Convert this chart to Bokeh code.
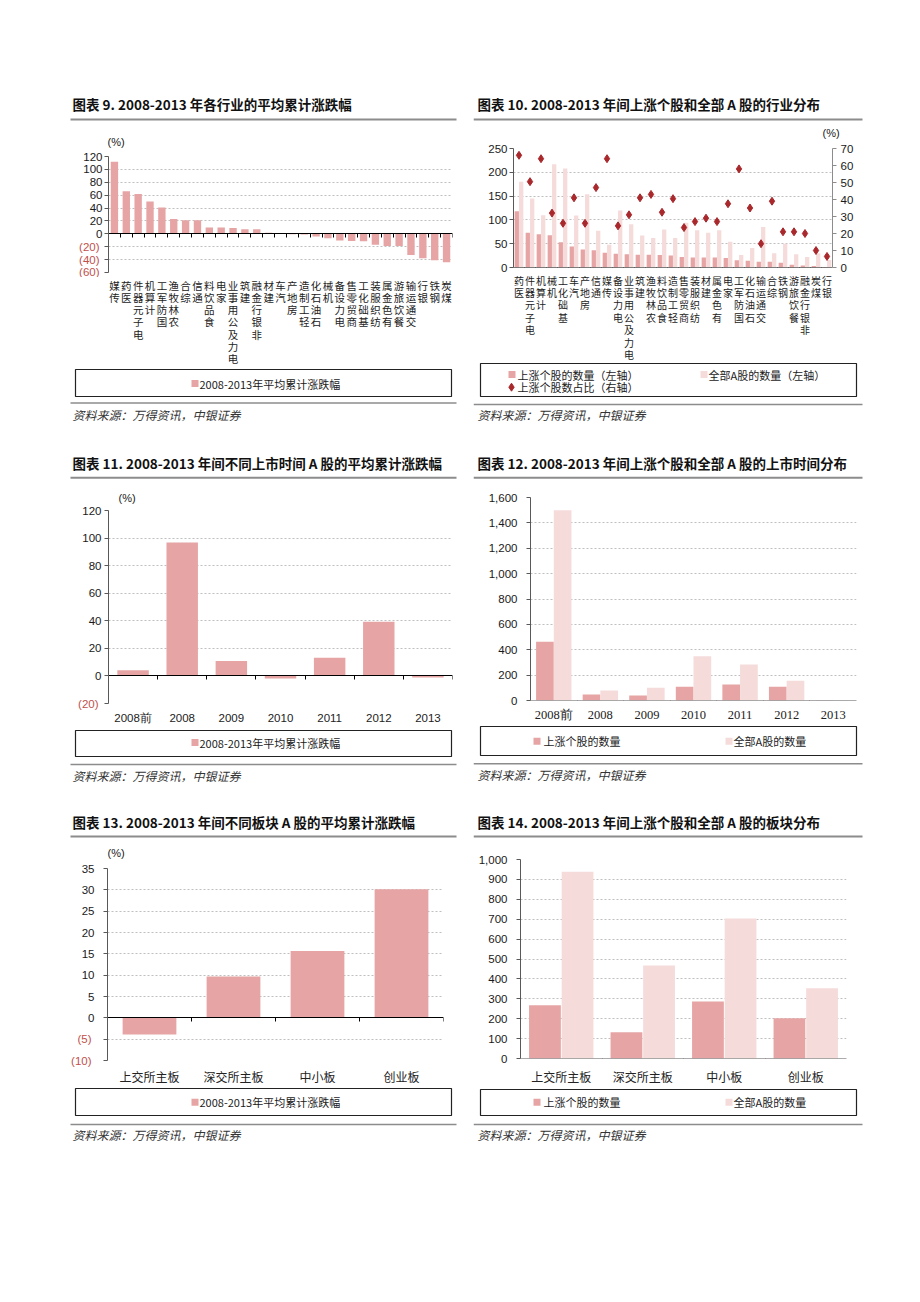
from bokeh.plotting import figure
from bokeh.layouts import column, row
from bokeh.models import (Range1d, LinearAxis, FixedTicker, Grid, CustomJSTickFormatter,
                          NumeralTickFormatter, BasicTickFormatter, ColumnDataSource, Spacer)
from bokeh.transform import dodge
from bokeh.core.properties import value
from bokeh.embed import file_html
from bokeh.resources import INLINE

# ---------------- data ----------------
ind9 = ["传媒", "医药", "电子元器件", "计算机", "国防军工", "农林牧渔", "综合", "通信", "食品饮料",
        "家电", "电力及公用事业", "建筑", "非银行金融", "建材", "汽车", "房地产", "轻工制造",
        "石油石化", "机械", "电力设备", "商贸零售", "基础化工", "纺织服装", "有色金属",
        "餐饮旅游", "交通运输", "银行", "钢铁", "煤炭"]
chg9 = [112, 66, 62, 50, 41, 23, 21, 21, 10, 10, 9, 7, 7, 1.5, 0.5, -0.5, -1, -4, -7,
        -10.5, -11, -11.5, -17, -19, -19, -33, -38, -41, -44]

ind10 = ["医药", "电子元器件", "计算机", "机械", "基础化工", "汽车", "房地产", "通信", "传媒",
         "电力设备", "电力及公用事业", "建筑", "农林牧渔", "食品饮料", "轻工制造", "商贸零售",
         "纺织服装", "建材", "有色金属", "家电", "国防军工", "石油石化", "交通运输", "综合",
         "钢铁", "餐饮旅游", "非银行金融", "煤炭", "银行"]
up10 = [118, 73, 70, 68, 53, 44, 38, 36, 31, 29, 28, 27, 27, 26, 25, 22, 21, 21, 21, 20,
        15, 14, 12, 12, 10, 6, 4, 3, 1]
all10 = [180, 145, 110, 217, 208, 109, 154, 77, 48, 120, 91, 67, 62, 80, 62, 94, 78, 73, 78,
         54, 26, 41, 85, 30, 50, 28, 22, 30, 16]
pct10 = [66, 50.5, 64, 32, 26, 41, 26, 47, 64, 24.5, 31, 41, 43, 32.5, 40.5, 23.5, 27, 29,
         27, 37.5, 58, 35, 14, 39, 21, 21, 20, 10, 6.5]

years = ["2008前", "2008", "2009", "2010", "2011", "2012", "2013"]
chg11 = [4.1, 96.7, 10.9, -1.9, 13.1, 39.3, -1.2]
up12 = [464, 47, 39, 108, 126, 108, 1]
all12 = [1500, 79, 100, 349, 283, 155, 2]

boards = ["上交所主板", "深交所主板", "中小板", "创业板"]
chg13 = [-3.9, 9.7, 15.65, 30.15]
up14 = [267, 132, 286, 202]
all14 = [939, 467, 704, 353]

titles = ["图表 9. 2008-2013 年各行业的平均累计涨跌幅",
          "图表 10. 2008-2013 年间上涨个股和全部 A 股的行业分布",
          "图表 11. 2008-2013 年间不同上市时间 A 股的平均累计涨跌幅",
          "图表 12. 2008-2013 年间上涨个股和全部 A 股的上市时间分布",
          "图表 13. 2008-2013 年间不同板块 A 股的平均累计涨跌幅",
          "图表 14. 2008-2013 年间上涨个股和全部 A 股的板块分布"]
source_text = "资料来源：万得资讯，中银证券"
leg_chg = "2008-2013年平均累计涨跌幅"
leg_up = "上涨个股的数量"
leg_all = "全部A股的数量"
leg10 = ["上涨个股的数量（左轴）", "全部A股的数量（左轴）", "上涨个股数占比（右轴）"]

# ---------------- style ----------------
CJK = "Noto Sans CJK SC"
NUM = "Liberation Sans"
SERIF = "Liberation Serif"
DARK = "#E6A4A4"
LIGHT = "#F6DBDB"
DOT = "#A8282C"
NEG = "#C0504D"
GRID = "#BFBFBF"
AX = "#595959"
RULE = "#8C8C8C"
W = 392


def deco(h):
    f = figure(width=W, height=h, x_range=Range1d(0, W), y_range=Range1d(h, 0),
               x_axis_type=None, y_axis_type=None, output_backend="svg",
               toolbar_location=None, title_location=None, min_border=0,
               frame_align=False)
    f.outline_line_color = None
    return f


def txt(f, x, y, s, size, font=CJK, color="#1a1a1a", style="normal"):
    f.text(x=[x], y=[y], text=[s], text_font=value(font), text_font_size=value(size),
           text_font_style=value(style), text_color=color, text_baseline="middle",
           text_align="left")


def hline(f, x0, x1, y, width=2, color=RULE):
    f.segment(x0=[x0], y0=[y], x1=[x1], y1=[y], line_width=width, line_color=color)


def box(f, y0, y1):
    f.quad(left=[7], right=[383], top=[y0], bottom=[y1], fill_color=None,
           line_color="#222222", line_width=1.2)


def swatch(f, x, y, color):
    f.rect(x=[x], y=[y], width=7, height=7, fill_color=color, line_color=None)


def top_deco(h, title, ty, ry, rx0, rx1, pct=None):
    f = deco(h)
    txt(f, 4, ty, title, "13.5px", style="bold", color="#111111")
    hline(f, rx0, rx1, ry)
    if pct is not None:
        txt(f, pct[0], pct[1], "(%)", "11px", font=NUM)
    return f


def bottom_single(h, by0, by1, ty, ry, sy, rx0, rx1):
    f = deco(h)
    box(f, by0, by1)
    swatch(f, 126.5, ty, DARK)
    txt(f, 131, ty, leg_chg, "11px")
    hline(f, rx0, rx1, ry, width=1.6)
    txt(f, 4, sy, source_text, "12px", color="#333333", style="italic")
    return f


def bottom_pair(h, by0, by1, ty, ry, sy):
    f = deco(h)
    box(f, by0, by1)
    swatch(f, 63.5, ty, DARK)
    txt(f, 70, ty, leg_up, "11px")
    swatch(f, 255.5, ty, LIGHT)
    txt(f, 260, ty, leg_all, "11px")
    hline(f, 0, 389, ry, width=1.6)
    txt(f, 4, sy, source_text, "12px", color="#333333", style="italic")
    return f


def chart(h, mbl, mbr, mbt, mbb, xr, yr):
    p = figure(width=W, height=h, x_range=xr, y_range=yr, x_axis_type=None, y_axis_type=None,
               output_backend="svg", toolbar_location=None, title_location=None,
               min_border_left=mbl, min_border_right=mbr, min_border_top=mbt,
               min_border_bottom=mbb, frame_align=False)
    p.outline_line_color = None
    return p


def label_fig(h, mbl, mbr, xr, labels, size, lh):
    f = figure(width=W, height=h, x_range=xr, y_range=Range1d(h, 0), x_axis_type=None,
               y_axis_type=None, output_backend="svg", toolbar_location=None,
               title_location=None, min_border_left=mbl, min_border_right=mbr,
               min_border_top=0, min_border_bottom=0, frame_align=False)
    f.outline_line_color = None
    src = ColumnDataSource(dict(x=list(range(len(labels))),
                                t=["\n".join(reversed(s)) for s in labels]))
    f.text(x="x", y=0, text="t", source=src, text_font=value(CJK), text_font_size=value(size),
           text_baseline="top", text_align="center", text_line_height=lh,
           text_color="#222222")
    return f


def style_axis(ax, color, standoff, size="11.5px", lab_color="#1a1a1a"):
    ax.axis_line_color = color
    ax.major_tick_line_color = color
    ax.major_tick_out = 4
    ax.major_tick_in = 0
    ax.minor_tick_line_color = None
    ax.major_label_text_font = NUM
    ax.major_label_text_font_size = size
    ax.major_label_text_color = lab_color
    ax.major_label_standoff = standoff


def add_y(p, ticks, standoff, fmt=None, side="left", grid=True, wmax=19):
    neg = [t for t in ticks if t < 0]
    if neg:
        fmt = CustomJSTickFormatter(code="return tick < 0 ? '' : String(tick);")
    ax = LinearAxis(ticker=FixedTicker(ticks=ticks), formatter=fmt or BasicTickFormatter())
    style_axis(ax, AX, standoff)
    p.add_layout(ax, side)
    if neg:
        # red bracketed negative labels on an outer axis, pulled back onto the same column
        ax2 = LinearAxis(ticker=FixedTicker(ticks=neg),
                         formatter=CustomJSTickFormatter(code="return '(' + Math.abs(tick) + ')';"))
        style_axis(ax2, AX, -wmax, lab_color=NEG)
        ax2.axis_line_color = None
        ax2.major_tick_line_color = None
        ax2.major_tick_out = 0
        p.add_layout(ax2, side)
    if grid:
        p.add_layout(Grid(dimension=1, ticker=FixedTicker(ticks=[t for t in ticks if t != 0]),
                          grid_line_color=GRID, grid_line_dash="2 2", grid_line_width=1))


def add_x(p, labels, standoff, font, size, color="#000000", show_labels=True):
    n = len(labels)
    bounds = [i - 0.5 for i in range(n + 1)]
    axt = LinearAxis(ticker=FixedTicker(ticks=bounds), fixed_location=0,
                     formatter=CustomJSTickFormatter(code="return '';"))
    style_axis(axt, color, 0)
    p.add_layout(axt, "below")
    if not show_labels:
        return
    lab = {i: s for i, s in enumerate(labels)}
    axl = LinearAxis(ticker=FixedTicker(ticks=list(range(n))), major_label_overrides=lab)
    axl.axis_line_color = None
    axl.major_tick_line_color = None
    axl.major_tick_out = 0
    axl.major_tick_in = 0
    axl.minor_tick_line_color = None
    axl.major_label_standoff = standoff
    axl.major_label_text_font = font
    axl.major_label_text_font_size = size
    axl.major_label_text_color = "#222222"
    p.add_layout(axl, "below")


# ---------------- chart 9 ----------------
n9 = len(ind9)
xr9 = Range1d(-0.5, n9 - 0.5)
p9t = top_deco(57, titles[0], 11, 27, 2, 388, pct=(39, 49))
c9 = chart(128, 40, 8, 7, 5, xr9, Range1d(-60, 120))
s9 = ColumnDataSource(dict(x=list(range(n9)), v=chg9))
c9.vbar(x="x", top="v", bottom=0, width=0.62, source=s9, fill_color=DARK, line_color=None)
add_y(c9, list(range(-60, 121, 20)), 2, wmax=19)
add_x(c9, ind9, 5, CJK, "10.5px", show_labels=False)
l9 = label_fig(91, 40, 8, xr9, ind9, "10.5px", 0.82)
p9b = bottom_single(57, 1, 28, 15, 34.5, 46, 2, 388)

# ---------------- chart 10 ----------------
n10 = len(ind10)
xr10 = Range1d(-0.5, n10 - 0.5)
p10t = top_deco(47, titles[1], 11, 27, 0, 389, pct=(349, 40))
c10 = chart(133, 40, 33, 9, 5, xr10, Range1d(0, 250))
c10.extra_y_ranges = {"pct": Range1d(0, 70)}
s10 = ColumnDataSource(dict(x=list(range(n10)), up=up10, all=all10, pct=pct10))
c10.vbar(x=dodge("x", -0.2, range=None), top="up", width=0.39, source=s10,
         fill_color=DARK, line_color=None)
c10.vbar(x=dodge("x", 0.2, range=None), top="all", width=0.39, source=s10,
         fill_color=LIGHT, line_color=None)
add_y(c10, list(range(0, 251, 50)), 2)
axr = LinearAxis(y_range_name="pct", ticker=FixedTicker(ticks=list(range(0, 71, 10))))
style_axis(axr, "#8C8C8C", 4)
c10.add_layout(axr, "right")
add_x(c10, ind10, 5, CJK, "10px", show_labels=False)
c10.scatter(x="x", y="pct", source=s10, y_range_name="pct", marker="diamond", size=8,
            fill_color=DOT, line_color=DOT)
l10 = label_fig(89, 40, 33, xr10, ind10, "10px", 0.83)
p10b = deco(64)
box(p10b, 2, 35)
swatch(p10b, 38.5, 13, DARK)
txt(p10b, 44, 13, leg10[0], "11px")
swatch(p10b, 230.5, 13, LIGHT)
txt(p10b, 235, 13, leg10[1], "11px")
p10b.scatter(x=[38], y=[25.7], marker="diamond", size=8, fill_color=DOT, line_color=DOT)
txt(p10b, 44, 25.7, leg10[2], "11px")
hline(p10b, 0, 389, 43, width=1.6)
txt(p10b, 4, 53, source_text, "12px", color="#333333", style="italic")

# ---------------- chart 11 ----------------
n11 = len(years)
p11t = top_deco(59, titles[2], 17, 32.3, 2, 388, pct=(50, 52.5))
c11 = chart(223, 40, 8, 6, 24, Range1d(-0.5, n11 - 0.5), Range1d(-20, 120))
s11 = ColumnDataSource(dict(x=list(range(n11)), v=chg11))
c11.vbar(x="x", top="v", bottom=0, width=0.64, source=s11, fill_color=DARK, line_color=None)
add_y(c11, list(range(-20, 121, 20)), 3, wmax=19)
add_x(c11, years, 8, NUM, "11.5px")
p11b = bottom_single(58, 3, 29, 15, 37, 48, 2, 388)

# ---------------- chart 12 ----------------
p12t = top_deco(44, titles[3], 17, 32.3, 0, 389)
c12 = chart(235, 57, 9, 8, 24, Range1d(-0.5, n11 - 0.5), Range1d(0, 1600))
s12 = ColumnDataSource(dict(x=list(range(n11)), up=up12, all=all12))
c12.vbar(x=dodge("x", -0.19, range=None), top="up", width=0.38, source=s12,
         fill_color=DARK, line_color=None)
c12.vbar(x=dodge("x", 0.19, range=None), top="all", width=0.38, source=s12,
         fill_color=LIGHT, line_color=None)
add_y(c12, list(range(0, 1601, 200)), 9, fmt=NumeralTickFormatter(format="0,0"))
add_x(c12, years, 7, SERIF, "12.5px", color=AX)
p12b = bottom_pair(61, 2, 31, 16.7, 39.3, 50)

# ---------------- chart 13 ----------------
n13 = len(boards)
p13t = top_deco(60, titles[4], 21.3, 36, 2, 388, pct=(39, 52))
c13 = chart(227, 38, 17, 8, 24, Range1d(-0.5, n13 - 0.5), Range1d(-10, 35))
s13 = ColumnDataSource(dict(x=list(range(n13)), v=chg13))
c13.vbar(x="x", top="v", bottom=0, width=0.64, source=s13, fill_color=DARK, line_color=None)
add_y(c13, list(range(-10, 36, 5)), 9, wmax=13)
add_x(c13, boards, 7, CJK, "12px")
p13b = bottom_single(63, 1, 28, 14.7, 37, 47.3, 2, 388)

# ---------------- chart 14 ----------------
p14t = top_deco(52, titles[5], 21.3, 36, 0, 389)
c14 = chart(235, 47, 19, 7, 26, Range1d(-0.5, n13 - 0.5), Range1d(0, 1000))
s14 = ColumnDataSource(dict(x=list(range(n13)), up=up14, all=all14))
c14.vbar(x=dodge("x", -0.2, range=None), top="up", width=0.39, source=s14,
         fill_color=DARK, line_color=None)
c14.vbar(x=dodge("x", 0.2, range=None), top="all", width=0.39, source=s14,
         fill_color=LIGHT, line_color=None)
add_y(c14, list(range(0, 1001, 100)), 9, fmt=NumeralTickFormatter(format="0,0"))
add_x(c14, boards, 9, CJK, "12px", color=AX)
p14b = bottom_pair(63, 2, 28, 14.7, 37, 47.3)

# ---------------- layout ----------------
layout = column(
    Spacer(height=92),
    row(Spacer(width=68), column(p9t, c9, l9, p9b), Spacer(width=13),
        column(p10t, c10, l10, p10b)),
    Spacer(height=20),
    row(Spacer(width=68), column(p11t, c11, p11b), Spacer(width=13), column(p12t, c12, p12b)),
    Spacer(height=15),
    row(Spacer(width=68), column(p13t, c13, p13b), Spacer(width=13), column(p14t, c14, p14b)),
)

open("out.html", "w").write(file_html(layout, INLINE, title="charts"))
